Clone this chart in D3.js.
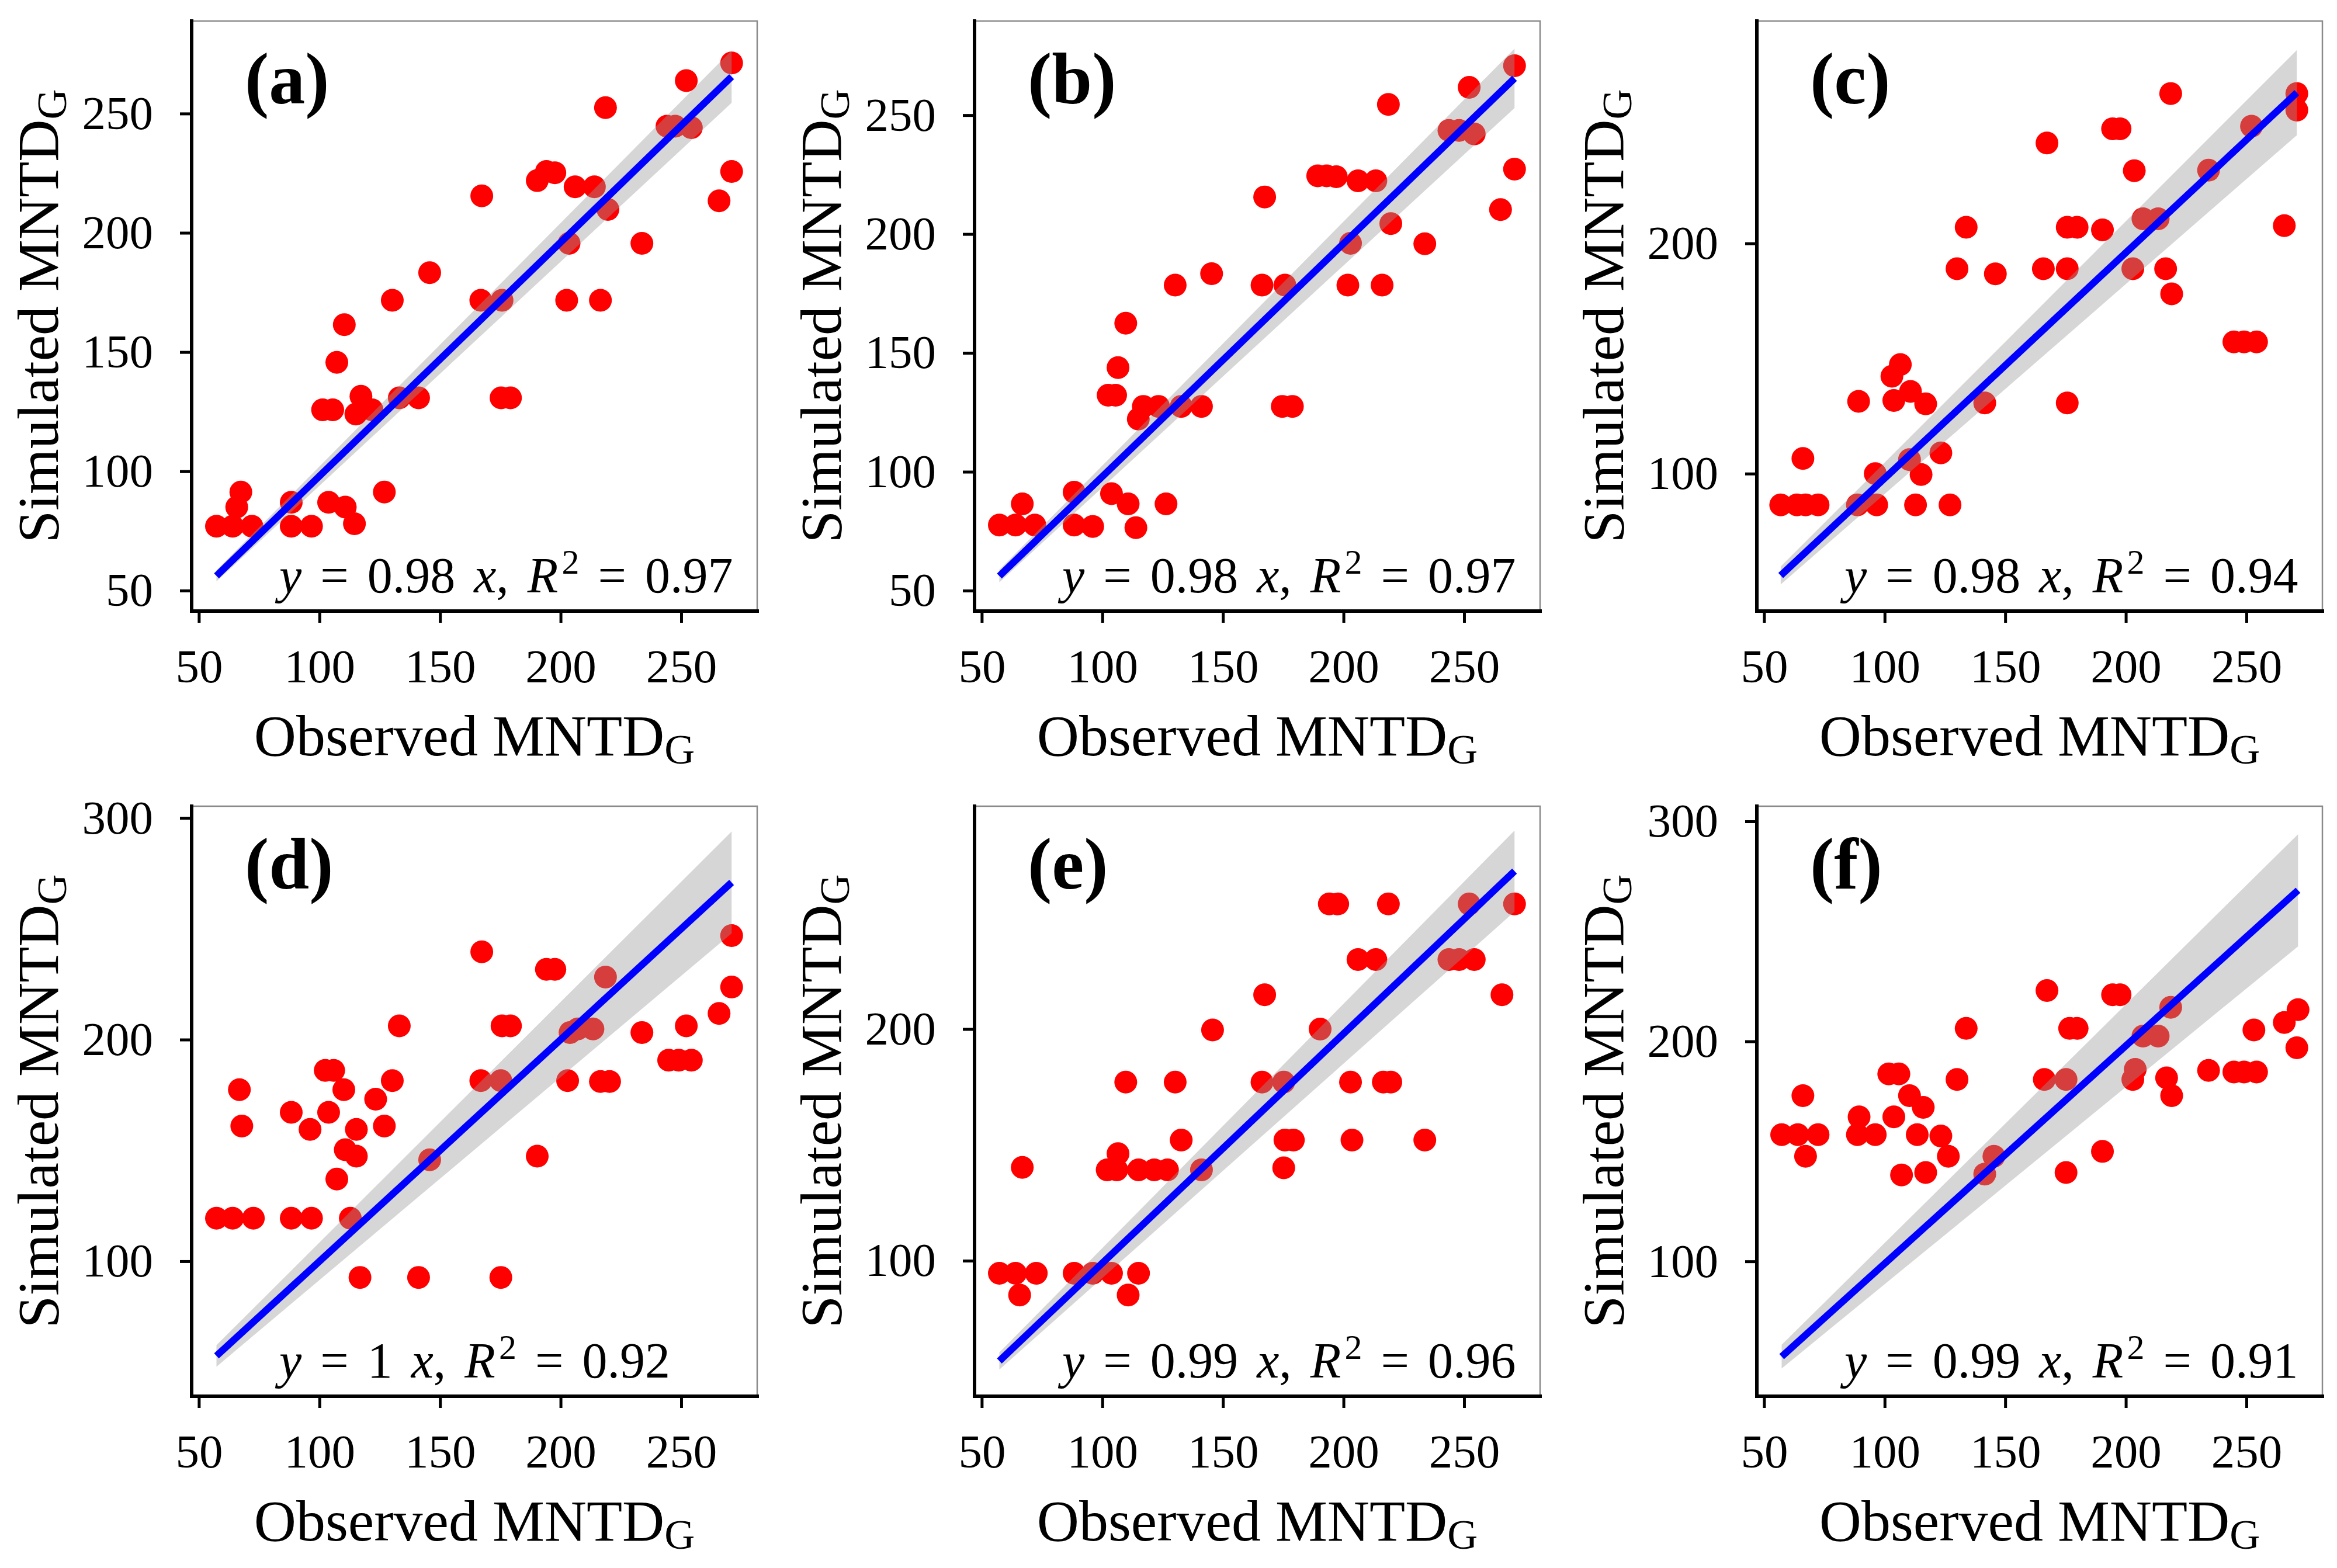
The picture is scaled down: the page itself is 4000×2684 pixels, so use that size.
<!DOCTYPE html>
<html><head><meta charset="utf-8">
<script src="https://cdn.jsdelivr.net/npm/d3@7"></script>
<style>body{margin:0;background:#fff}</style>
</head><body>
<svg id="chart" width="4000" height="2684" xmlns="http://www.w3.org/2000/svg"></svg>
<script>
// ---------- data ----------
const panelLabels = ["(a)", "(b)", "(c)", "(d)", "(e)", "(f)"];
const slopes = [0.98, 0.98, 0.98, 1, 0.99, 0.99];
const slopeLabels = ["0.98", "0.98", "0.98", "1", "0.99", "0.99"];
const r2Labels = ["0.97", "0.97", "0.94", "0.92", "0.96", "0.91"];
const bandHalfWidthAtMax = [11, 12.5, 18.5, 23, 17.5, 25.5];
const xTicks = [50, 100, 150, 200, 250];
const yTicksList = [[50,100,150,200,250],[50,100,150,200,250],[100,200],[100,200,300],[100,200],[100,200,300]];
const xDomain = [47, 281.5];
const yDomains = [[41.4,288.8],[41.4,289.6],[40.3,296.6],[39.1,305.3],[41.5,296.2],[38.7,306.9]];

const obsA = [57.3,64,65.7,67.4,72,88.3,88.3,96.7,103.8,110.7,114.5,126.9,101.3,105.5,115.1,117.2,121.8,133.1,141.1,107.2,110.3,130.2,145.7,166.9,167.3,175.7,175.3,179.2,190.3,194.1,197.6,202.5,203.5,206,214,216.5,218.6,219.6,233.7,244.1,247.5,252.1,254.2,265.7,270.9,270.9];
const simA = [77,77,85,91.3,77,87,77,77,87,85,78,91.3,125.8,125.8,124,131.5,125.8,130.8,130.8,145.7,161.5,171.7,183.3,171.7,215.5,171.7,130.8,130.8,221.9,225.7,225.2,171.7,195.6,219.3,219.3,171.7,252.5,209.8,195.6,244.7,244.7,263.8,244.1,213.4,271.2,225.7];

const obsB = [57.3,64,66.8,72,88.3,88.3,96,103.8,110.7,113.9,126.4,102.4,105.5,106.5,109.7,114.9,117,123.3,132.7,141.1,130.2,145.3,166.2,175.7,167.3,174.6,178.8,189.3,193,197,202.9,201.8,206,213.4,216,218.6,219.6,233.7,243.7,247.9,252.1,254.2,265.1,270.9,270.9];
const simB = [77.6,77.6,86.5,77.6,91.4,77.6,77,90.8,86.5,76.5,86.5,132.2,132.2,143.8,162.5,122.2,127.5,127.5,127.5,127.5,178.5,183.3,178.5,178.5,215.6,127.5,127.5,224.5,224.5,224.1,196.1,178.5,222.4,222.4,178.5,254.5,204.4,195.9,243.6,243.6,261.7,242.1,210.3,270.8,227.3];

const obsC = [56.9,63.6,67.2,72.4,66.1,89.2,88.7,96.1,96.7,110.3,112.8,115.1,123.3,127.1,103,106.5,103.8,110.7,117,141.5,130,133.8,145.9,167.3,165.8,175.7,175.7,175.7,179.8,190.3,194.5,197.6,202.9,203.5,207.1,213.4,216.5,218.6,219,234.3,244.8,249,254.2,252.1,265.7,270.9,270.9];
const simC = [86.4,86.4,86.4,86.4,106.6,131.4,86.4,100,86.4,106.1,86.4,99.6,109,86.4,142.3,147.4,131.8,135.7,130.3,130.7,189,207,186.8,243.6,189,189,130.7,207,207,205.9,249.8,249.8,189,231.6,210.7,210.7,189,265.1,178.1,231.8,157.2,157.2,157.2,250.9,207.7,265.1,257.9];

const obsD = [57.3,64,72.6,66.8,67.8,88.3,88.3,96.1,96.7,102.4,105.9,103.8,107.2,110.1,110.7,112.8,115.3,115.3,116.8,123.3,126.9,130.2,133.1,141.1,145.7,167.3,166.9,175.2,175.2,175.7,179.2,190.3,194.1,197.6,202.9,203.9,207.1,213.4,218.6,216.5,220.3,233.7,244.8,249,252.1,254.2,265.7,270.9,270.9];
const simD = [119.4,119.4,119.4,177.4,161,167.2,119.4,159.5,119.4,186.1,186.1,167.2,137.1,177.4,150.3,119.4,147.4,159.5,92.7,173.1,161,181.5,206.2,92.7,145.8,239.6,181.5,181.5,92.7,206.2,206.2,147.4,231.7,231.7,181.5,203.2,204.8,204.8,228.2,181.1,181.1,203.2,190.7,190.7,206.2,190.7,211.8,246.9,223.7];

const obsE = [57.3,64,72.6,88.3,96,103.8,115,65.7,110.7,66.8,102,106,115,121.5,127,141.1,106.5,109.7,130.2,132.7,145.7,167.3,166.2,175.2,175.2,175.7,179.2,190.3,194.1,197.6,202.9,203.5,206,213.4,216.5,219.6,218.6,233.7,243.7,247.9,252.1,254.2,265.7,270.9];
const simE = [94.6,94.6,94.6,94.6,94.6,94.6,94.6,85.2,85.2,140.3,139.2,139.2,139.2,139.2,139.2,139.2,146.2,177.1,177.1,152.1,199.6,214.8,177.1,177.1,140.1,152.1,152.1,200,254,254,177.1,152.1,230,230,177.1,177.1,254,152.1,230,230,254,230,214.8,254];

const obsF = [57.3,64,72.4,67.2,66.1,88.7,89.4,96.1,101.7,105.9,103.8,107,110.3,116,113.5,117,123.3,126.4,130,133.8,141.5,145.3,167.3,166.2,175.2,175.2,176.7,179.8,190.3,194.5,197.6,202.9,203.9,207.1,213.4,216.9,219,218.6,234.3,244.8,249,254.2,253.1,265.7,271.4,270.9];
const simF = [157.6,157.6,157.6,147.8,175.3,157.6,165.7,157.6,185.2,185.2,165.7,139.3,175.3,170,157.6,140.4,157,147.8,182.7,205.9,139.7,147.8,223.1,182.7,182.7,140.4,205.9,205.9,150,221.2,221.2,182.7,187.3,202.4,202.4,183.4,175.3,215.5,186.8,186.1,186.1,186.1,205.2,208.6,214.4,197.1];

const observedSets = [obsA, obsB, obsC, obsD, obsE, obsF];
const simulatedSets = [simA, simB, simC, simD, simE, simF];

// ---------- layout ----------
const FONT = "'Liberation Serif','Times New Roman',Times,serif";
const colLeft = [328, 1668, 3007];
const rowTop = [36, 1380];
const W = 968, H = 1010;

const svg = d3.select("#chart");
svg.append("rect").attr("width", 4000).attr("height", 2684).attr("fill", "#fff");

observedSets.forEach((obs, i) => {
  const sim = simulatedSets[i];
  const left = colLeft[i % 3], top = rowTop[Math.floor(i / 3)];
  const g = svg.append("g").attr("transform", `translate(${left},${top})`);
  const x = d3.scaleLinear().domain(xDomain).range([0, W]);
  const y = d3.scaleLinear().domain(yDomains[i]).range([H, 0]);

  const clipId = "clip" + i;
  g.append("clipPath").attr("id", clipId).append("rect").attr("width", W).attr("height", H);
  const plot = g.append("g").attr("clip-path", `url(#${clipId})`);

  // points
  const pts = obs.map((o, k) => [o, sim[k]]);
  plot.selectAll("circle").data(pts).join("circle")
    .attr("cx", d => x(d[0])).attr("cy", d => y(d[1]))
    .attr("r", 19.5).attr("fill", "#ff0000");

  // regression through origin with confidence band
  const [xmin, xmax] = d3.extent(obs);
  const b = slopes[i];
  const c = bandHalfWidthAtMax[i] / xmax;
  const xs = [xmin, xmax];
  plot.append("path").datum(xs)
    .attr("d", d3.area().x(d => x(d)).y0(d => y(b * d - c * d)).y1(d => y(b * d + c * d)))
    .attr("fill", "#999999").attr("fill-opacity", 0.4);
  plot.append("path").datum(xs)
    .attr("d", d3.line().x(d => x(d)).y(d => y(b * d)))
    .attr("stroke", "#0000ff").attr("stroke-width", 12).attr("fill", "none");

  // panel border (top/right)
  g.append("path").attr("d", `M0,0H${W}V${H}`).attr("fill", "none")
    .attr("stroke", "#8a8a8a").attr("stroke-width", 2.5);

  // axes
  const gy = g.append("g").call(d3.axisLeft(y).tickValues(yTicksList[i]).tickSize(20).tickPadding(46).tickFormat(d3.format("d")));
  const gx = g.append("g").attr("transform", `translate(0,${H})`)
    .call(d3.axisBottom(x).tickValues(xTicks).tickSize(20).tickPadding(44).tickFormat(d3.format("d")));
  [gx, gy].forEach(ax => {
    ax.select(".domain").remove();
    ax.attr("font-size", 81).attr("font-family", FONT);
    ax.selectAll("line").attr("stroke", "#000").attr("stroke-width", 5);
    ax.selectAll("text").attr("fill", "#000");
  });
  g.append("path").attr("d", `M0,0V${H}H${W}`).attr("fill", "none")
    .attr("stroke", "#000").attr("stroke-width", 6).attr("stroke-linecap", "square");

  // axis titles
  const xt = g.append("text").attr("x", W / 2).attr("y", H + 247)
    .attr("text-anchor", "middle").attr("font-family", FONT).attr("font-size", 100).attr("fill", "#000");
  xt.append("tspan").text("Observed MNTD");
  xt.append("tspan").attr("font-size", 72).attr("dy", 14).text("G");

  const yt = g.append("text").attr("transform", `translate(-229,${H / 2}) rotate(-90)`)
    .attr("text-anchor", "middle").attr("font-family", FONT).attr("font-size", 100).attr("fill", "#000");
  yt.append("tspan").text("Simulated MNTD");
  yt.append("tspan").attr("font-size", 72).attr("dy", 14).text("G");

  // panel label
  g.append("text").attr("x", 91).attr("y", 141).attr("font-family", FONT)
    .attr("font-size", 124).attr("font-weight", "bold").attr("fill", "#000").text(panelLabels[i]);

  // equation
  const eq = g.append("text").attr("x", 150).attr("y", 978).attr("font-family", FONT)
    .attr("font-size", 86).attr("fill", "#000").attr("word-spacing", 10.5)
    .style("white-space", "pre");
  eq.append("tspan").attr("font-style", "italic").text("y");
  eq.append("tspan").text(" = " + slopeLabels[i] + " ");
  eq.append("tspan").attr("font-style", "italic").text("x");
  eq.append("tspan").text(", ");
  eq.append("tspan").attr("font-style", "italic").text("R");
  eq.append("tspan").attr("font-size", 60).attr("dy", -32).attr("dx", 6).text("2");
  eq.append("tspan").attr("dy", 32).text(" = " + r2Labels[i]);
});
</script>
</body></html>
